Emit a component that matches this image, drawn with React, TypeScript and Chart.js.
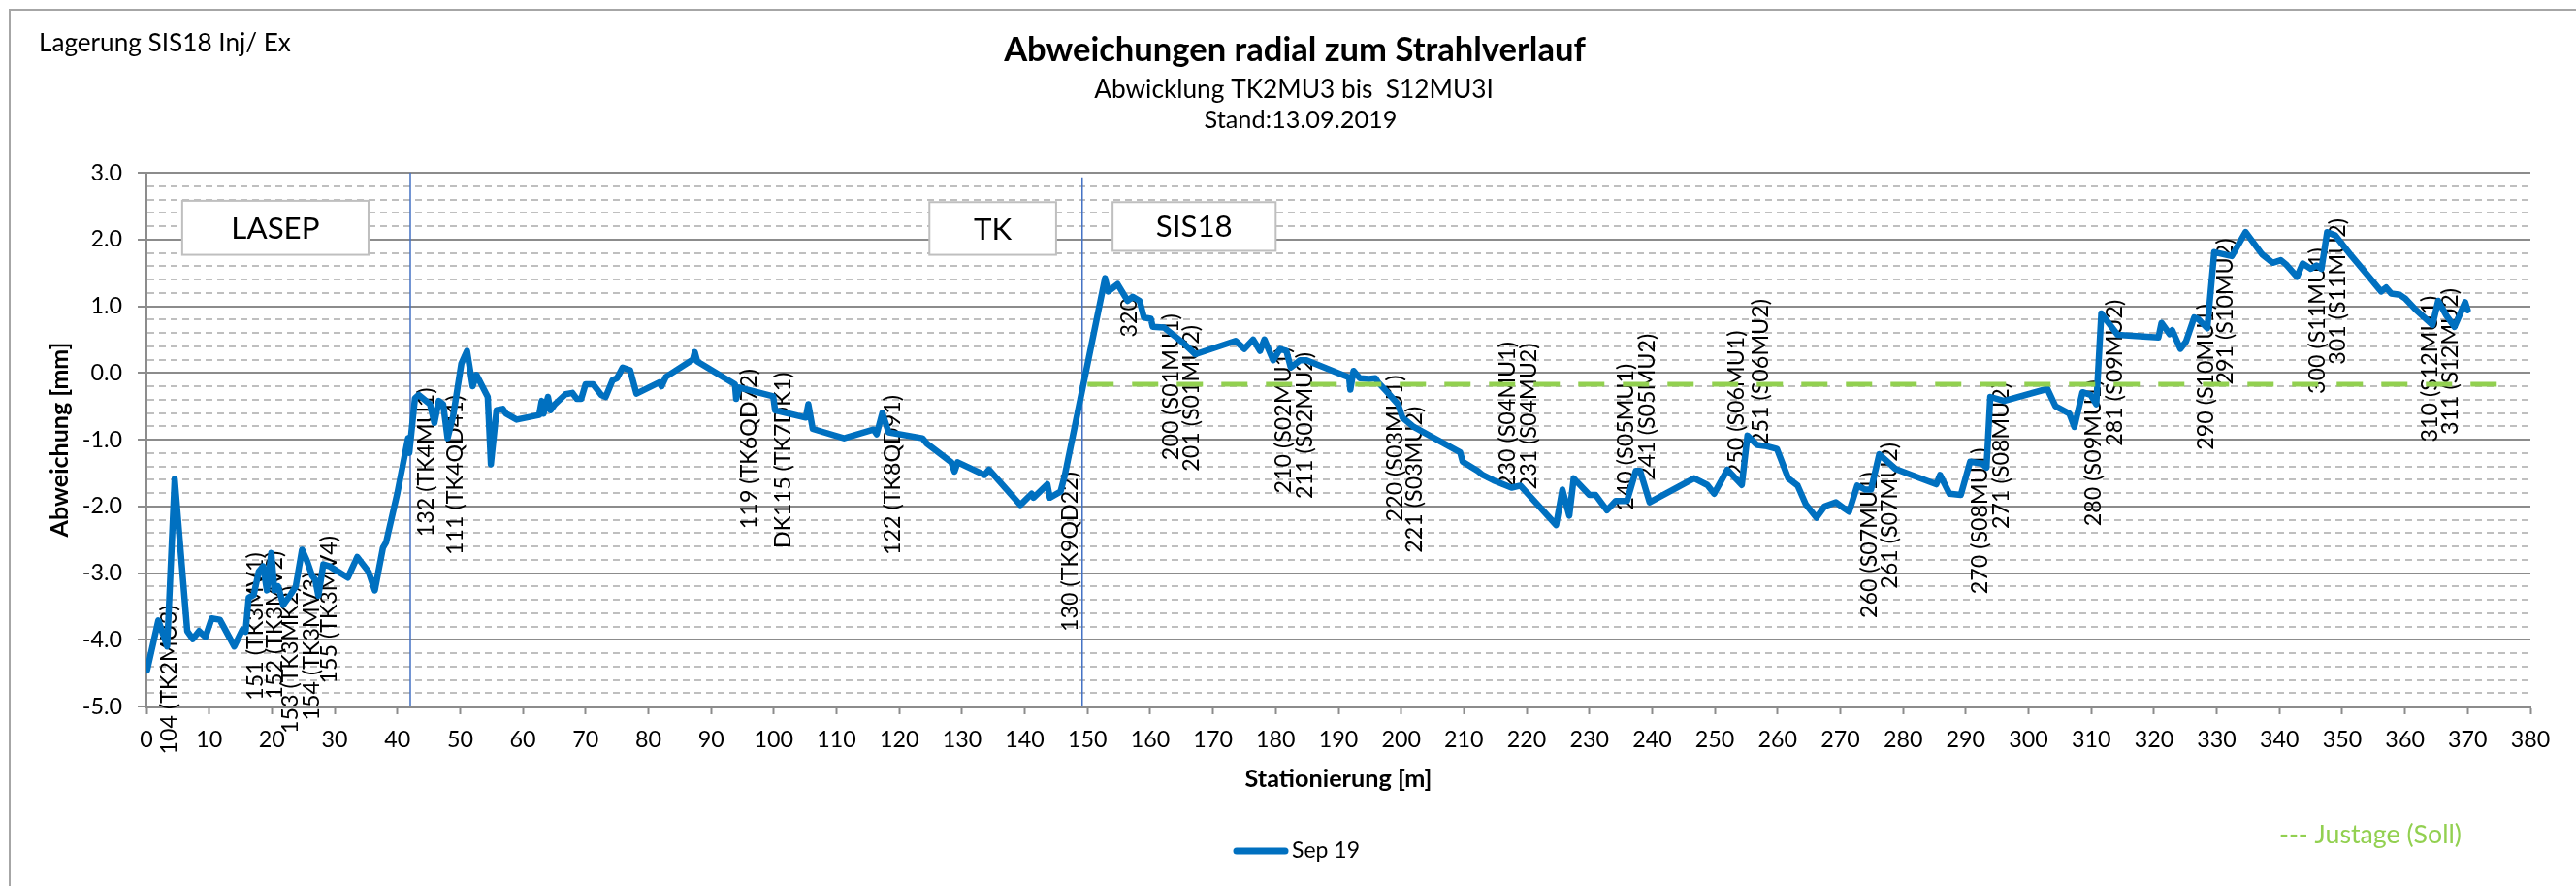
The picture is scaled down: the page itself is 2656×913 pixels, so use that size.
import React, { useEffect, useRef } from "react";
import { Chart, registerables } from "chart.js";

Chart.register(...registerables);

// ---------- data ----------
const seriesName = "Sep 19";
const stationM = [
  0.1, 1.9, 3.3, 4.5, 6.5, 7.4, 8.4, 9.4, 10.4, 11.7, 14.0, 15.3, 15.8, 16.3, 17.1, 17.9, 18.6, 19.2, 19.9,
  20.4, 21.0, 21.8, 23.0, 23.8, 24.8, 25.6, 26.4, 26.9, 27.4, 28.2, 29.2, 32.1, 33.6, 35.4, 36.4, 37.7, 38.2,
  40.0, 41.7, 41.9, 42.8, 43.4, 45.2, 45.9, 46.6, 47.3, 48.0, 48.9, 50.2, 51.1, 52.0, 52.6, 54.4, 54.9, 55.8,
  56.8, 57.3, 59.0, 62.6, 63.0, 63.3, 64.0, 64.4, 65.1, 66.8, 67.9, 68.6, 69.3, 70.0, 71.2, 72.5, 73.2, 74.3,
  75.0, 75.9, 77.1, 78.1, 81.8, 82.1, 82.8, 87.1, 87.4, 87.8, 93.8, 94.0, 94.5, 99.9, 100.2, 105.1, 105.5,
  106.2, 111.2, 115.9, 116.4, 117.3, 118.3, 123.7, 124.4, 128.3, 128.8, 129.3, 133.6, 134.3, 139.3, 141.1,
  141.4, 143.6, 144.0, 145.7, 146.4, 152.8, 153.3, 154.8, 156.4, 157.2, 158.3, 159.0, 160.1, 160.4, 162.2,
  165.0, 167.2, 173.6, 175.0, 176.4, 177.5, 178.2, 179.6, 180.7, 181.7, 182.4, 183.9, 184.9, 191.7, 191.9,
  192.4, 193.4, 194.9, 195.9, 196.3, 197.7, 199.5, 200.2, 202.0, 209.4, 209.8, 212.2, 213.0, 214.7, 217.6,
  219.0, 224.7, 225.7, 226.8, 227.5, 230.0, 231.0, 232.8, 234.2, 236.0, 237.4, 238.1, 239.6, 246.7, 248.8,
  249.9, 252.0, 254.3, 255.2, 256.7, 258.3, 259.9, 261.7, 263.2, 264.5, 266.2, 267.5, 269.3, 270.6, 271.4,
  272.7, 274.0, 274.9, 276.2, 278.8, 285.3, 285.9, 287.4, 289.2, 290.7, 292.6, 293.3, 293.9, 296.1, 303.0,
  304.3, 306.5, 307.3, 308.6, 309.9, 310.8, 311.6, 314.2, 320.7, 321.2, 322.5, 322.9, 324.2, 325.1, 326.4,
  327.0, 328.5, 329.6, 332.4, 334.6, 337.2, 338.9, 340.2, 341.0, 342.8, 343.7, 345.0, 345.9, 346.7, 347.6,
  348.9, 351.5, 354.0, 356.2, 357.0, 357.8, 359.2, 360.1, 361.8, 364.4, 365.3, 366.6, 367.9, 369.6, 370.0,
];
const deviationMm = [
  -4.46, -3.71, -4.1, -1.59, -3.87, -3.99, -3.87, -3.96, -3.68, -3.7, -4.1, -3.85, -3.88, -3.37, -3.33, -2.98,
  -2.9, -3.26, -2.7, -3.26, -3.2, -3.48, -3.32, -3.2, -2.65, -2.82, -3.04, -3.1, -3.34, -2.87, -2.9, -3.07,
  -2.76, -2.98, -3.26, -2.62, -2.54, -1.8, -0.98, -1.2, -0.38, -0.33, -0.47, -0.75, -0.42, -0.47, -0.98,
  -0.64, 0.14, 0.33, -0.2, -0.03, -0.36, -1.37, -0.56, -0.54, -0.61, -0.7, -0.63, -0.42, -0.61, -0.36, -0.56,
  -0.47, -0.32, -0.3, -0.39, -0.39, -0.17, -0.17, -0.33, -0.36, -0.11, -0.08, 0.08, 0.04, -0.31, -0.14, -0.2,
  -0.06, 0.2, 0.31, 0.17, -0.17, -0.39, -0.22, -0.35, -0.56, -0.67, -0.47, -0.84, -0.98, -0.85, -0.92, -0.6,
  -0.89, -0.98, -1.06, -1.34, -1.48, -1.34, -1.53, -1.45, -1.98, -1.81, -1.87, -1.67, -1.87, -1.78, -1.53,
  1.42, 1.22, 1.33, 1.08, 1.14, 1.08, 0.83, 0.81, 0.69, 0.68, 0.47, 0.28, 0.48, 0.36, 0.5, 0.33, 0.5, 0.19,
  0.36, 0.33, 0.08, 0.19, 0.19, -0.07, -0.25, 0.03, -0.08, -0.09, -0.08, -0.14, -0.28, -0.47, -0.67, -0.81,
  -1.19, -1.33, -1.47, -1.53, -1.61, -1.72, -1.69, -2.28, -1.75, -2.14, -1.58, -1.83, -1.83, -2.06, -1.92,
  -1.92, -1.47, -1.47, -1.94, -1.58, -1.68, -1.81, -1.45, -1.68, -0.94, -1.08, -1.1, -1.14, -1.58, -1.69,
  -1.97, -2.17, -2.0, -1.94, -2.03, -2.08, -1.69, -1.75, -1.75, -1.22, -1.44, -1.67, -1.53, -1.81, -1.83,
  -1.33, -1.36, -1.42, -0.36, -0.42, -0.24, -0.5, -0.61, -0.81, -0.29, -0.33, -0.47, 0.89, 0.57, 0.53, 0.75,
  0.58, 0.64, 0.36, 0.47, 0.83, 0.81, 0.67, 1.81, 1.75, 2.11, 1.78, 1.65, 1.69, 1.63, 1.44, 1.64, 1.56, 1.61,
  1.56, 2.11, 2.06, 1.75, 1.47, 1.22, 1.28, 1.19, 1.17, 1.11, 0.94, 0.72, 1.08, 0.86, 0.69, 1.06, 0.94,
];

const pointLabelTexts = [
  "104 (TK2MU3)", "151 (TK3MV1)", "152 (TK3MV2)", "153 (TK3MK2)", "154 (TK3MV3)", "155 (TK3MV4)",
  "132 (TK4MU1)", "111 (TK4QD41)", "119 (TK6QD72)", "DK115 (TK7DK1)", "122 (TK8QD91)", "130 (TK9QD22)",
  "320", "200 (S01MU1)", "201 (S01MU2)", "210 (S02MU1)", "211 (S02MU2)", "220 (S03MU1)", "221 (S03MU2)",
  "230 (S04MU1)", "231 (S04MU2)", "240 (S05MU1)", "241 (S05MU2)", "250 (S06MU1)", "251 (S06MU2)",
  "260 (S07MU1)", "261 (S07MU2)", "270 (S08MU1)", "271 (S08MU2)", "280 (S09MU1)", "281 (S09MU2)",
  "290 (S10MU1)", "291 (S10MU2)", "300 (S11MU1)", "301 (S11MU2)", "310 (S12MU1)", "311 (S12MU2)",
];
const pointLabelStation = [
  3.65, 17.4, 20.5, 23.0, 26.4, 29.2, 44.6, 49.2, 96.1, 101.5, 119.0, 147.2, 156.7, 163.4, 166.6, 181.2,
  184.6, 199.1, 202.1, 216.9, 220.3, 235.8, 239.2, 253.5, 257.3, 274.6, 277.9, 292.2, 295.6, 310.3, 313.8,
  328.3, 331.4, 346.1, 349.3, 364.0, 367.2,
];
const pointLabelCenterMm = [
  -4.6, -3.8, -3.78, -4.3, -4.1, -3.55, -1.34, -1.53, -1.14, -1.31, -1.53, -2.68, 0.83, -0.21, -0.38, -0.71,
  -0.79, -1.13, -1.6, -0.63, -0.65, -0.96, -0.51, -0.46, 0.01, -2.58, -2.14, -2.22, -1.24, -1.2, 0.0, -0.06,
  0.92, 0.78, 1.22, 0.06, 0.17,
];

const sectionNames = ["LASEP", "TK", "SIS18"];
const sectionFromM = [5.7, 124.8, 154.0];
const sectionToM = [35.4, 145.0, 180.0];
const sectionBoxTopMm = [2.58, 2.56, 2.56];
const sectionBoxBottomMm = [1.77, 1.77, 1.83];
const sectionDividerM = [42.05, 149.15];
const sectionDividerTopMm = [3.0, 2.93];

const justageMm = -0.17;
const justageFromM = 150;
const justageToM = 377;

const yMin = -5;
const yMax = 3;
const yStep = 0.2;
const xMin = 0;
const xMax = 380;
const xStep = 10;

const titleText = "Abweichungen radial zum Strahlverlauf";
const subtitleLines = ["Abwicklung TK2MU3 bis  S12MU3I", "Stand:13.09.2019"];
const cornerNote = "Lagerung SIS18 Inj/ Ex";
const yAxisTitle = "Abweichung [mm]";
const xAxisTitle = "Stationierung [m]";
const justageNote = "--- Justage (Soll)";

// ---------- styles ----------
const FONT = "Lato, 'Open Sans', 'DejaVu Sans', sans-serif";
const LINE_BLUE = "#0070C0";
const DIVIDER_BLUE = "#4472C4";
const GREEN = "#92D050";
const GRID_MAJOR = "#8C8C8C";
const GRID_MINOR = "#BFBFBF";

function isMajor(v: any) {
  return typeof v === "number" && Math.abs(v - Math.round(v)) < 1e-6;
}

function fitSize(ctx: CanvasRenderingContext2D, text: string, weight: number, target: number) {
  ctx.font = `${weight} 100px ${FONT}`;
  const w = ctx.measureText(text).width;
  return (100 * target) / w;
}

export default function App() {
  const ref = useRef<HTMLCanvasElement | null>(null);

  useEffect(() => {
    document.body.style.margin = "0";
    const canvas = ref.current;
    if (!canvas) return;

    const m = document.createElement("canvas").getContext("2d") as CanvasRenderingContext2D;
    const S = fitSize(m, "200 (S01MU1)", 400, 151);
    const sz = {
      label: S,
      corner: fitSize(m, cornerNote, 400, 260),
      title: fitSize(m, titleText, 700, 600),
      sub: fitSize(m, subtitleLines[0], 400, 412),
      stand: fitSize(m, subtitleLines[1], 400, 199),
      yTitle: fitSize(m, yAxisTitle, 700, 201),
      xTitle: fitSize(m, xAxisTitle, 700, 193),
      legend: fitSize(m, seriesName, 400, 70),
      justage: fitSize(m, justageNote, 400, 188),
      box: (fitSize(m, "LASEP", 400, 90) + fitSize(m, "SIS18", 400, 80)) / 2,
    };

    const textPlugin = {
      id: "decor",
      beforeDraw(chart: any) {
        const c = chart.ctx as CanvasRenderingContext2D;
        c.save();
        c.fillStyle = "#fff";
        c.fillRect(0, 0, chart.width, chart.height);
        c.strokeStyle = "#A6A6A6";
        c.lineWidth = 2;
        c.strokeRect(10, 10, chart.width + 50, chart.height + 50);

        c.fillStyle = "#000";
        c.textBaseline = "middle";
        c.textAlign = "left";
        c.font = `400 ${sz.corner}px ${FONT}`;
        c.fillText(cornerNote, 40, 45);

        c.textAlign = "center";
        c.font = `700 ${sz.title}px ${FONT}`;
        c.fillText(titleText, 1335, 52);
        c.font = `400 ${sz.sub}px ${FONT}`;
        c.fillText(subtitleLines[0], 1334, 93);
        c.font = `400 ${sz.stand}px ${FONT}`;
        c.fillText(subtitleLines[1], 1341, 124);

        const area = chart.chartArea;
        c.font = `700 ${sz.xTitle}px ${FONT}`;
        c.fillText(xAxisTitle, (area.left + area.right) / 2, 803);

        c.save();
        c.translate(62, (area.top + area.bottom) / 2);
        c.rotate(-Math.PI / 2);
        c.font = `700 ${sz.yTitle}px ${FONT}`;
        c.fillText(yAxisTitle, 0, 0);
        c.restore();

        // legend
        c.strokeStyle = LINE_BLUE;
        c.lineWidth = 7;
        c.lineCap = "round";
        c.beginPath();
        c.moveTo(1275, 877);
        c.lineTo(1325, 877);
        c.stroke();
        c.textAlign = "left";
        c.font = `400 ${sz.legend}px ${FONT}`;
        c.fillText(seriesName, 1332, 877);

        c.fillStyle = GREEN;
        c.font = `400 ${sz.justage}px ${FONT}`;
        c.fillText(justageNote, 2350, 860);
        c.restore();
      },
      beforeDatasetsDraw(chart: any) {
        const c = chart.ctx as CanvasRenderingContext2D;
        const { x, y } = chart.scales;
        c.save();
        c.fillStyle = "#000";
        c.textAlign = "center";
        c.textBaseline = "middle";
        c.font = `400 ${sz.label}px ${FONT}`;
        pointLabelTexts.forEach((t, i) => {
          c.save();
          c.translate(x.getPixelForValue(pointLabelStation[i]), y.getPixelForValue(pointLabelCenterMm[i]));
          c.rotate(-Math.PI / 2);
          c.fillText(t, 0, 0);
          c.restore();
        });
        c.restore();
      },
      afterDatasetsDraw(chart: any) {
        const c = chart.ctx as CanvasRenderingContext2D;
        const { x, y } = chart.scales;
        c.save();
        sectionNames.forEach((name, i) => {
          const l = x.getPixelForValue(sectionFromM[i]);
          const r = x.getPixelForValue(sectionToM[i]);
          const t = y.getPixelForValue(sectionBoxTopMm[i]);
          const b = y.getPixelForValue(sectionBoxBottomMm[i]);
          c.fillStyle = "#fff";
          c.fillRect(l, t, r - l, b - t);
          c.strokeStyle = "#BFBFBF";
          c.lineWidth = 2;
          c.strokeRect(l, t, r - l, b - t);
          c.fillStyle = "#000";
          c.textAlign = "center";
          c.textBaseline = "middle";
          c.font = `400 ${sz.box}px ${FONT}`;
          c.fillText(name, (l + r) / 2, (t + b) / 2 + 1);
        });
        c.restore();
      },
    };

    const mainData = stationM.map((s, i) => ({ x: s, y: deviationMm[i] }));
    const justageData = [
      { x: justageFromM, y: justageMm },
      { x: justageToM, y: justageMm },
    ];
    const dividerSets = sectionDividerM.map((d, i) => ({
      label: "divider" + i,
      data: [
        { x: d, y: sectionDividerTopMm[i] },
        { x: d, y: yMin },
      ],
      borderColor: DIVIDER_BLUE,
      borderWidth: 1.5,
      pointRadius: 0,
      order: 3,
    }));

    const tickFont = { family: FONT, size: S };

    const chart = new Chart(canvas, {
      type: "line",
      data: {
        datasets: [
          {
            label: "Justage (Soll)",
            data: justageData,
            borderColor: GREEN,
            borderWidth: 5,
            borderDash: [27, 19],
            pointRadius: 0,
            order: 0,
          },
          {
            label: seriesName,
            data: mainData,
            borderColor: LINE_BLUE,
            borderWidth: 6.5,
            pointRadius: 0,
            tension: 0,
            borderJoinStyle: "round",
            borderCapStyle: "round",
            order: 1,
          },
          ...dividerSets,
        ] as any,
      },
      options: {
        responsive: false,
        devicePixelRatio: 1,
        animation: false,
        layout: { padding: { left: 0, top: 178, right: 47, bottom: 85 } },
        plugins: {
          legend: { display: false },
          title: { display: false },
          tooltip: { enabled: false },
        },
        scales: {
          x: {
            type: "linear",
            min: xMin,
            max: xMax,
            afterFit: (s: any) => {
              s.height = 100;
            },
            ticks: {
              stepSize: xStep,
              autoSkip: false,
              maxRotation: 0,
              padding: 12,
              color: "#000",
              font: tickFont,
            },
            grid: {
              drawOnChartArea: false,
              drawTicks: true,
              tickLength: 8,
              tickColor: GRID_MAJOR,
              tickWidth: 2,
            },
            border: { color: GRID_MAJOR, width: 3 },
          },
          y: {
            type: "linear",
            min: yMin,
            max: yMax,
            afterFit: (s: any) => {
              s.width = 151;
            },
            ticks: {
              stepSize: yStep,
              autoSkip: false,
              padding: 16,
              color: "#000",
              font: tickFont,
              callback: (v: any) => (isMajor(Number(v)) ? Number(v).toFixed(1) : ""),
            },
            grid: {
              color: (c: any) => (c.tick && !isMajor(c.tick.value) ? GRID_MINOR : GRID_MAJOR),
              lineWidth: 2,
              tickLength: 9,
              tickWidth: 2,
              tickColor: (c: any) => (c.tick && !isMajor(c.tick.value) ? "rgba(0,0,0,0)" : GRID_MAJOR),
            },
            border: {
              color: GRID_MAJOR,
              width: 2,
              dash: (c: any) => (c.tick && !isMajor(c.tick.value) ? [7, 5] : []),
            },
          },
        },
      } as any,
      plugins: [textPlugin as any],
    });

    return () => chart.destroy();
  }, []);

  return (
    <div style={{ width: 2656, height: 913 }}>
      <canvas ref={ref} width={2656} height={913} style={{ display: "block" }} />
    </div>
  );
}
